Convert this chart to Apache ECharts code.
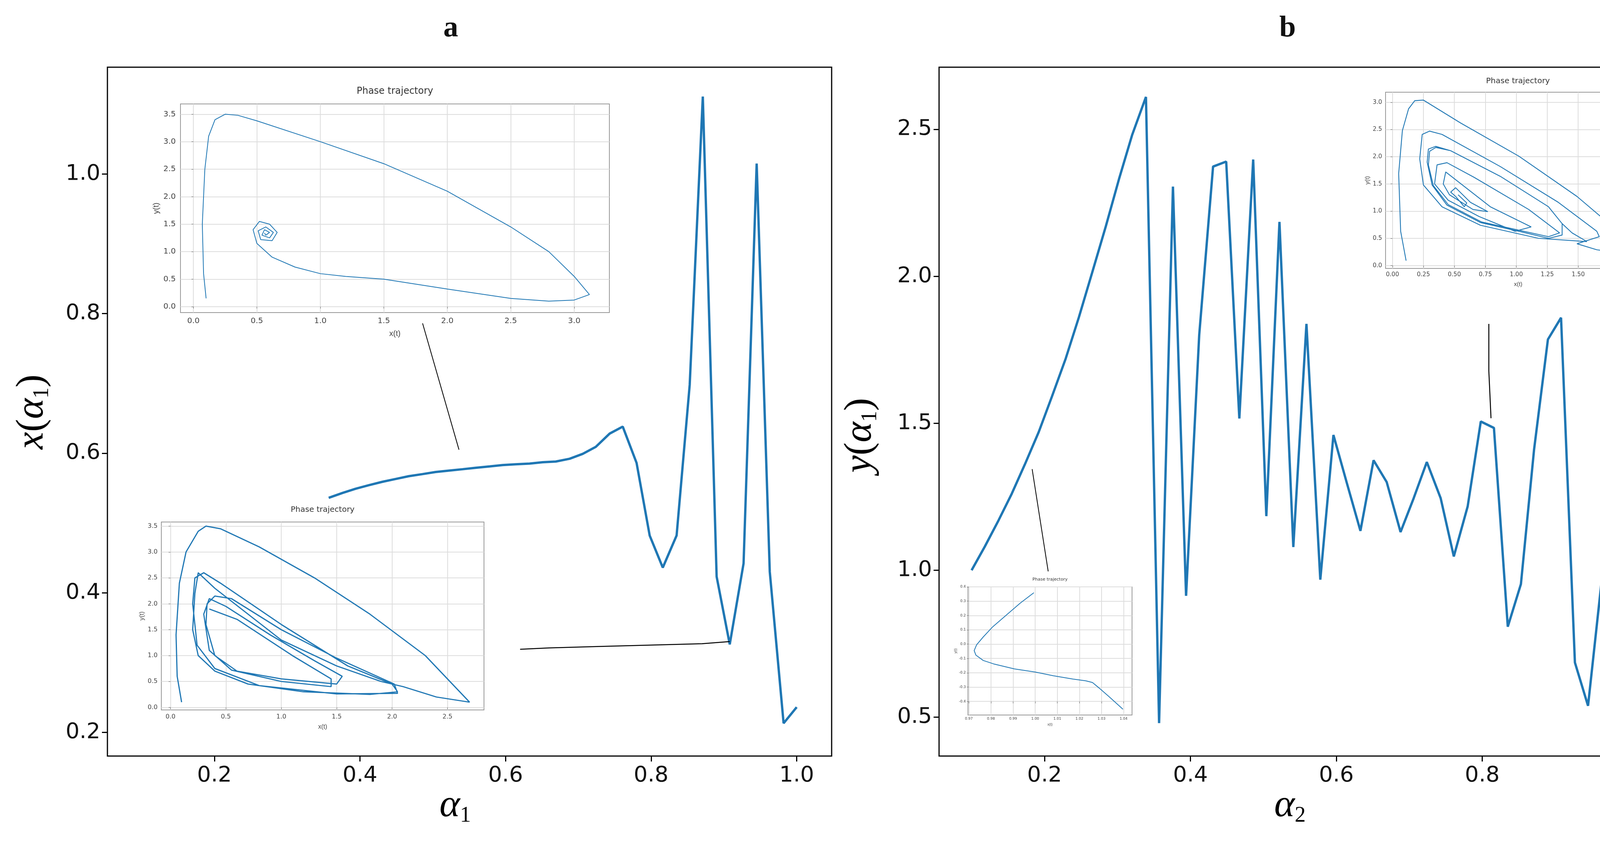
<!DOCTYPE html>
<html><head><meta charset="utf-8">
<script src="https://cdn.jsdelivr.net/npm/echarts@6/dist/echarts.min.js"></script>
<style>html,body{margin:0;padding:0;background:#fff}#c{width:4328px;height:2155px}</style>
</head><body><div id="c"></div>
<script>
// ---- Panel a main data ----
const aAlpha = [0.357,0.376,0.394,0.412,0.431,0.449,0.467,0.486,0.504,0.522,0.541,0.559,0.578,0.596,0.614,0.633,0.651,0.669,0.688,0.706,0.724,0.743,0.761,0.780,0.798,0.816,0.835,0.853,0.871,0.890,0.908,0.927,0.945,0.963,0.982,1.0];
const aVals = [0.536,0.543,0.549,0.554,0.559,0.563,0.567,0.570,0.573,0.575,0.577,0.579,0.581,0.583,0.584,0.585,0.587,0.588,0.592,0.599,0.609,0.628,0.638,0.586,0.482,0.436,0.482,0.698,1.111,0.423,0.326,0.442,1.015,0.430,0.213,0.236];
// ---- Panel b main data ----
const bAlpha = [0.100,0.118,0.137,0.155,0.173,0.192,0.210,0.229,0.247,0.265,0.284,0.302,0.320,0.339,0.357,0.376,0.394,0.412,0.431,0.449,0.467,0.486,0.504,0.522,0.541,0.559,0.578,0.596,0.614,0.633,0.651,0.669,0.688,0.706,0.724,0.743,0.761,0.780,0.798,0.816,0.835,0.853,0.871,0.890,0.908,0.927,0.945,0.963,0.982,1.0];
const bVals = [1.0,1.08,1.17,1.26,1.36,1.47,1.59,1.72,1.86,2.01,2.17,2.33,2.48,2.61,0.48,2.305,0.913,1.80,2.373,2.39,1.516,2.397,1.184,2.185,1.079,1.838,0.968,1.46,1.30,1.134,1.374,1.30,1.13,1.245,1.368,1.245,1.047,1.217,1.506,1.484,0.808,0.953,1.41,1.785,1.859,0.686,0.539,0.95,1.35,1.755];
// ticks
const aXTicks = [0.2,0.4,0.6,0.8,1.0];
const aYTicks = [0.2,0.4,0.6,0.8,1.0];
const bXTicks = [0.2,0.4,0.6,0.8,1.0];
const bYTicks = [0.5,1.0,1.5,2.0,2.5];
// leader lines
const aLeader1 = [[0.486,0.786],[0.536,0.605]];
const aLeader2 = [[0.62,0.319],[0.66,0.321],[0.73,0.323],[0.80,0.325],[0.87,0.327],[0.908,0.330]];
const bLeader1 = [[0.183,1.344],[0.205,0.996]];
const bLeader2 = [[0.809,1.838],[0.809,1.678],[0.812,1.517]];
// ---- inset trajectories ----
const insA1 = [[0.10,0.15],[0.08,0.6],[0.07,1.5],[0.09,2.5],[0.12,3.1],[0.17,3.4],[0.25,3.5],[0.35,3.48],[0.5,3.38],[1.0,3.0],[1.5,2.6],[2.0,2.1],[2.5,1.45],[2.8,1.0],[3.0,0.55],[3.12,0.22],[3.0,0.12],[2.8,0.1],[2.5,0.15],[2.0,0.32],[1.5,0.5],[1.2,0.55],[1.0,0.6],[0.8,0.72],[0.62,0.9],[0.5,1.15],[0.47,1.4],[0.52,1.55],[0.6,1.5],[0.66,1.35],[0.62,1.2],[0.53,1.22],[0.51,1.38],[0.57,1.45],[0.63,1.35],[0.6,1.25],[0.54,1.3],[0.56,1.4],[0.6,1.35],[0.57,1.3],[0.56,1.34]];
const insA2 = [[0.1,0.1],[0.06,0.6],[0.05,1.4],[0.08,2.4],[0.14,3.0],[0.25,3.4],[0.32,3.5],[0.45,3.45],[0.8,3.1],[1.3,2.5],[1.8,1.8],[2.3,1.0],[2.7,0.1],[2.4,0.2],[2.1,0.4],[1.9,0.5],[1.5,0.8],[1.0,1.3],[0.4,2.3],[0.25,2.6],[0.22,2.2],[0.2,1.5],[0.25,1.0],[0.4,0.7],[0.7,0.45],[1.2,0.3],[1.8,0.25],[2.05,0.3],[2.0,0.45],[1.6,0.8],[1.0,1.6],[0.45,2.4],[0.3,2.6],[0.22,2.5],[0.2,2.0],[0.24,1.2],[0.4,0.75],[0.8,0.42],[1.5,0.26],[2.05,0.27],[2.02,0.45],[1.5,0.95],[1.0,1.5],[0.55,2.1],[0.4,2.15],[0.33,2.0],[0.32,1.6],[0.4,1.0],[0.6,0.7],[1.0,0.55],[1.5,0.45],[1.55,0.6],[1.3,0.9],[0.9,1.4],[0.5,1.95],[0.35,2.1],[0.3,1.8],[0.35,1.1],[0.55,0.72],[1.0,0.5],[1.45,0.4],[1.45,0.55],[1.1,1.0],[0.6,1.7],[0.35,1.9]];
const insB1 = [[0.11,0.09],[0.066,0.63],[0.05,1.69],[0.08,2.48],[0.13,2.88],[0.18,3.03],[0.25,3.04],[0.55,2.62],[1.02,2.01],[1.49,1.27],[1.93,0.42],[1.98,0.34],[1.95,0.25],[1.81,0.24],[1.65,0.29],[1.49,0.40],[1.67,0.53],[1.65,0.63],[1.34,1.16],[0.87,1.82],[0.40,2.41],[0.30,2.47],[0.24,2.41],[0.22,1.96],[0.25,1.48],[0.40,1.08],[0.71,0.74],[1.18,0.50],[1.57,0.44],[1.45,0.6],[1.37,0.77],[1.26,1.08],[0.87,1.64],[0.47,2.11],[0.35,2.19],[0.29,2.14],[0.28,1.90],[0.32,1.48],[0.44,1.11],[0.71,0.79],[1.02,0.63],[1.26,0.50],[1.37,0.56],[1.37,0.77],[1.26,1.08],[0.87,1.64],[0.47,2.11],[0.35,2.17],[0.30,2.1],[0.29,1.85],[0.33,1.47],[0.45,1.12],[0.72,0.80],[1.02,0.65],[1.26,0.53],[1.35,0.6],[1.10,1.03],[0.66,1.62],[0.44,1.89],[0.36,1.85],[0.34,1.5],[0.45,1.2],[0.7,0.9],[0.99,0.63],[1.12,0.71],[0.79,1.08],[0.43,1.72],[0.41,1.5],[0.46,1.30],[0.65,1.03],[0.77,0.99],[0.63,1.16],[0.51,1.43],[0.47,1.35],[0.51,1.27],[0.58,1.08],[0.6,1.15],[0.53,1.3]];
const insB2 = [[2.94,7.59],[2.32,6.86],[1.71,6.05],[1.06,5.18],[0.65,4.5],[0.35,3.95],[0.24,3.55],[0.32,3.23],[0.65,2.86],[1.12,2.62],[2.06,2.27],[3.0,2.05],[3.82,1.79],[4.71,1.56],[5.29,1.44],[5.59,1.32],[5.88,0.95],[6.35,0.32],[6.97,-0.55]];
const insA1X=[0,0.5,1,1.5,2,2.5,3], insA1Y=[0,0.5,1,1.5,2,2.5,3,3.5];
const insA2X=[0,0.5,1,1.5,2,2.5], insA2Y=[0,0.5,1,1.5,2,2.5,3,3.5];
const insB1X=[0,0.25,0.5,0.75,1,1.25,1.5,1.75,2], insB1Y=[0,0.5,1,1.5,2,2.5,3];
const insB2X=[0,1,2,3,4,5,6,7], insB2Y=[0,1,2,3,4,5,6,7,8];
const insB2XL=['0.97','0.98','0.99','1.00','1.01','1.02','1.03','1.04'];
const insB2YL=['-0.4','-0.3','-0.2','-0.1','0.0','0.1','0.2','0.3','0.4'];

const C='#1f77b4';
const grids=[], xAxes=[], yAxes=[], series=[];
function mainAxes(box,xr,yr,xt,yt){
  const gi=grids.length;
  grids.push({left:box[0],top:box[1],width:box[2],height:box[3],show:true,borderColor:'#000',borderWidth:3,backgroundColor:'transparent'});
  const common={axisLine:{show:false},splitLine:{show:false},axisTick:{length:14,lineStyle:{color:'#000',width:3}},axisLabel:{fontSize:56,color:'#111',fontFamily:'DejaVu Sans',margin:22,formatter:v=>(+v).toFixed(1)}};
  xAxes.push(Object.assign({type:'value',gridIndex:gi,min:xr[0],max:xr[1]},JSON.parse(JSON.stringify(common)),{axisLabel:Object.assign({},common.axisLabel,{customValues:xt}),axisTick:Object.assign({},common.axisTick,{customValues:xt})}));
  yAxes.push(Object.assign({type:'value',gridIndex:gi,min:yr[0],max:yr[1]},JSON.parse(JSON.stringify(common)),{axisLabel:Object.assign({},common.axisLabel,{customValues:yt,margin:18}),axisTick:Object.assign({},common.axisTick,{customValues:yt})}));
  return gi;
}
function inset(box,xr,yr,xt,yt,fs,dec,opt){
  opt=opt||{};
  const gi=grids.length;
  grids.push({left:box[0],top:box[1],width:box[2]-box[0],height:box[3]-box[1],show:true,borderColor:'#999',borderWidth:2,backgroundColor:'#fff',z:5});
  const lab=(t,labels,d)=>({customValues:t,fontSize:fs,color:'#444',fontFamily:'DejaVu Sans',margin:fs*0.6,formatter:v=>{if(labels){const k=t.indexOf(+v);return k>=0?labels[k]:'';}return (+v).toFixed(d);}});
  xAxes.push({type:'value',gridIndex:gi,min:xr[0],max:xr[1],z:6,name:opt.xn||'x(t)',nameLocation:'middle',nameGap:fs*2.2,nameTextStyle:{fontSize:fs,color:'#444'},
    axisLine:{show:false},axisTick:{customValues:xt,length:5,lineStyle:{color:'#666'}},axisLabel:lab(xt,opt.xl,dec[0]),
    splitLine:{show:true,lineStyle:{color:'#ddd',width:2}}});
  yAxes.push({type:'value',gridIndex:gi,min:yr[0],max:yr[1],z:6,name:opt.yn||'y(t)',nameLocation:'middle',nameGap:fs*2.6,nameTextStyle:{fontSize:fs,color:'#444'},
    axisLine:{show:false},axisTick:{customValues:yt,length:5,lineStyle:{color:'#666'}},axisLabel:lab(yt,opt.yl,dec[1]),
    splitLine:{show:true,lineStyle:{color:'#ddd',width:2}}});
  return gi;
}
function line(gi,data,w,color,z){series.push({type:'line',xAxisIndex:gi,yAxisIndex:gi,data:data,symbol:'none',silent:true,z:z||3,lineStyle:{color:color||C,width:w},animation:false});}

const ga=mainAxes([275,172,1854,1763],[0.053,1.048],[0.166,1.153],aXTicks,aYTicks);
line(ga,aAlpha.map((x,i)=>[x,aVals[i]]),6);
line(ga,aLeader1,2,'#000'); line(ga,aLeader2,2.5,'#000');
const gb=mainAxes([2404,172,1850,1763],[0.0554,1.046],[0.368,2.711],bXTicks,bYTicks);
line(gb,bAlpha.map((x,i)=>[x,bVals[i]]),6);
line(gb,bLeader1,2,'#000'); line(gb,bLeader2,2.5,'#000');

const g1=inset([462,266,1560,800],[-0.102,3.277],[-0.108,3.687],insA1X,insA1Y,20,[1,1]);
line(g1,insA1,2,C,7);
const g2=inset([413,1336,1239,1817],[-0.083,2.83],[-0.05,3.58],insA2X,insA2Y,16,[1,1]);
line(g2,insA2,3,C,7);
const g3=inset([3547,236,4226,687],[-0.056,2.086],[-0.053,3.185],insB1X,insB1Y,15,[2,1]);
line(g3,insB1,2.2,C,7);
const g4=inset([2478,1502,2898,1830],[-0.04,7.38],[-0.95,8.0],insB2X,insB2Y,9,[2,2],{xl:insB2XL,yl:insB2YL,xn:'x(t)',yn:'y(t)'});
line(g4,insB2,2,C,7);

const rich={a:{fontFamily:'Liberation Serif',fontStyle:'italic',fontSize:100,color:'#111'},p:{fontFamily:'Liberation Serif',fontSize:100,color:'#111'},s:{fontFamily:'Liberation Serif',fontSize:56,color:'#111',padding:[50,0,0,0]}};
const graphic=[
 {type:'text',left:1135,top:35,z:20,style:{text:'a',font:'bold 76px "Liberation Serif"',fill:'#111'}},
 {type:'text',left:3275,top:35,z:20,style:{text:'b',font:'bold 76px "Liberation Serif"',fill:'#111'}},
 {type:'text',x:1125,y:2010,z:20,style:{text:'{a|α}{s|1}',rich:rich}},
 {type:'text',x:3262,y:2010,z:20,style:{text:'{a|α}{s|2}',rich:rich}},
 {type:'text',x:30,y:1150,rotation:Math.PI/2,z:20,style:{text:'{a|x}{p|(}{a|α}{s|1}{p|)}',rich:rich}},
 {type:'text',x:2150,y:1210,rotation:Math.PI/2,z:20,style:{text:'{a|y}{p|(}{a|α}{s|1}{p|)}',rich:rich}},
 {type:'text',x:1011,y:222,z:20,style:{text:'Phase trajectory',font:'24px "DejaVu Sans"',fill:'#333',textAlign:'center'}},
 {type:'text',x:826,y:1295,z:20,style:{text:'Phase trajectory',font:'20px "DejaVu Sans"',fill:'#333',textAlign:'center'}},
 {type:'text',x:3886,y:198,z:20,style:{text:'Phase trajectory',font:'20px "DejaVu Sans"',fill:'#333',textAlign:'center'}},
 {type:'text',x:2688,y:1478,z:20,style:{text:'Phase trajectory',font:'11px "DejaVu Sans"',fill:'#333',textAlign:'center'}}
];
const chart=echarts.init(document.getElementById('c'));
chart.setOption({animation:false,backgroundColor:'#fff',grid:grids,xAxis:xAxes,yAxis:yAxes,series:series,graphic:graphic});
</script></body></html>
